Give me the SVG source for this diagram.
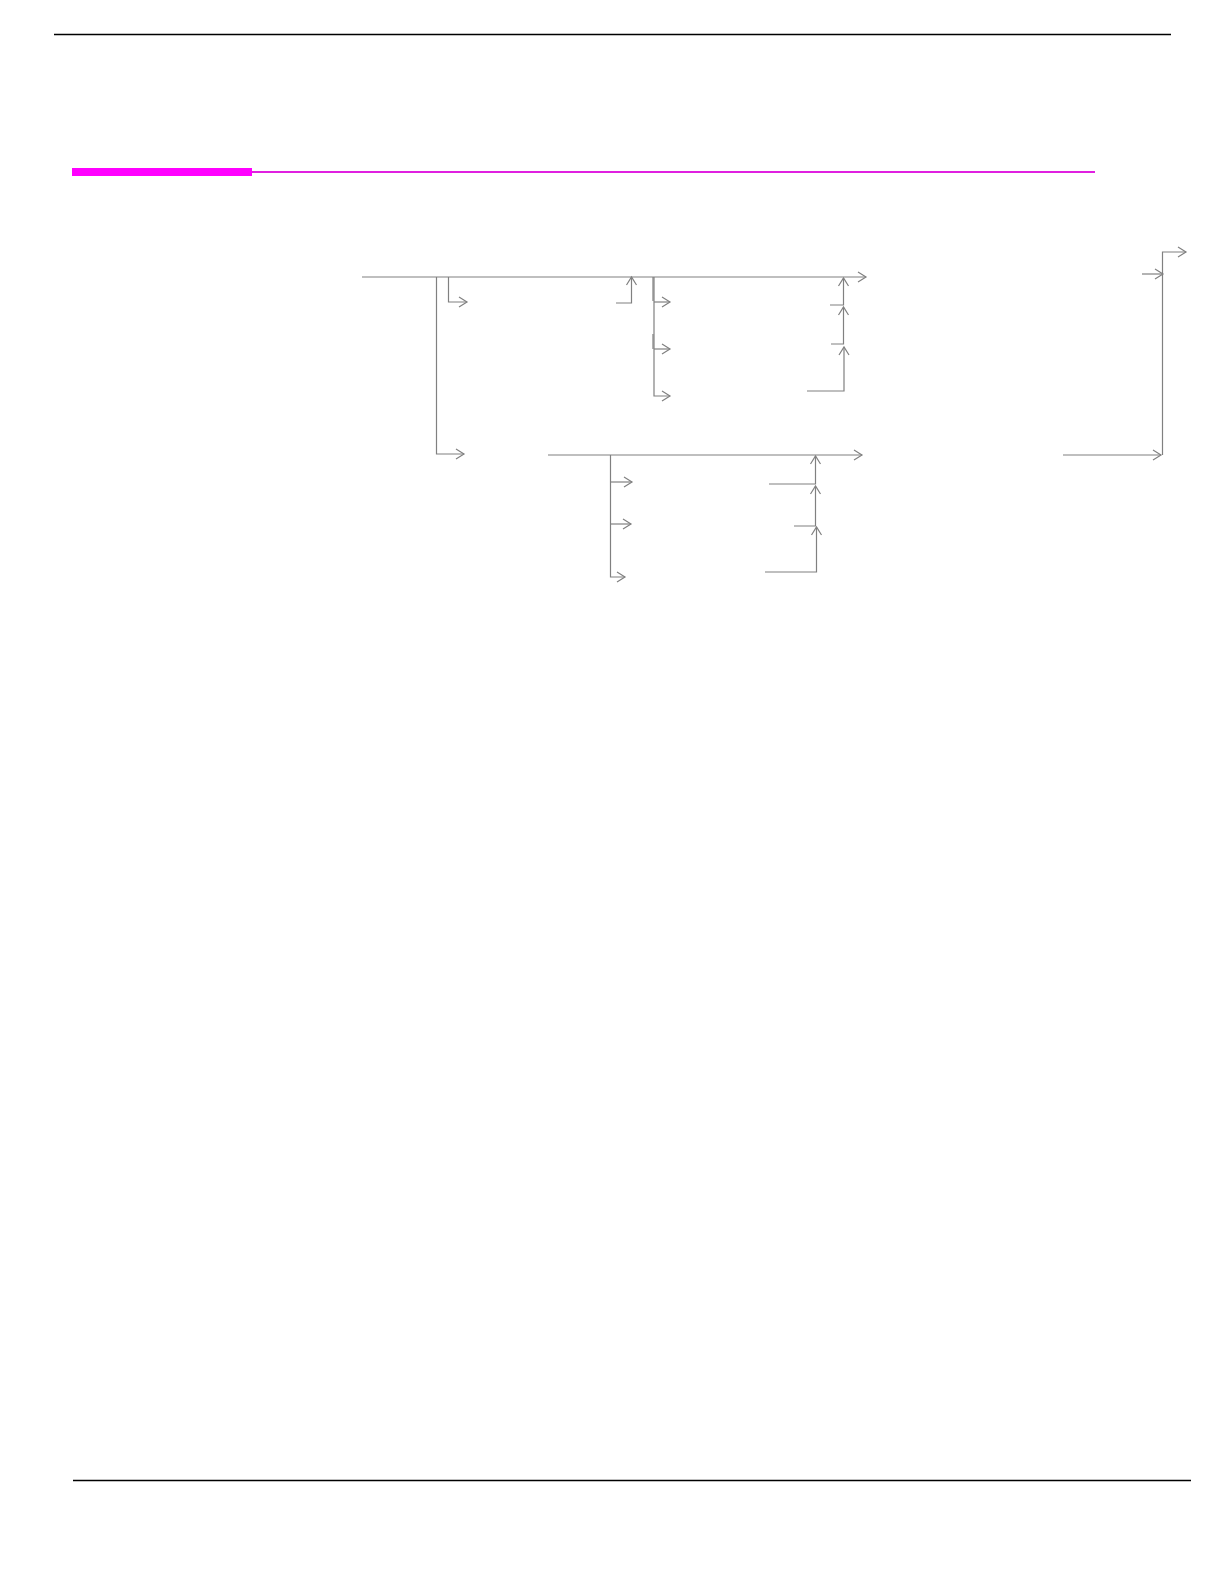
<svg xmlns="http://www.w3.org/2000/svg" width="1224" height="1582" viewBox="0 0 1224 1582">
<defs>
<style>
.rule{stroke:#000;stroke-width:1.3;fill:none}
.c{stroke:#808080;stroke-width:1.2;fill:none}
</style>
<marker id="ah" markerUnits="userSpaceOnUse" markerWidth="14" markerHeight="14" viewBox="-10 -7 12 14" refX="0" refY="0" orient="auto">
<path d="M-8,-5 L0,0 L-8,5" fill="none" stroke="#808080" stroke-width="1.2"/>
</marker>
</defs>
<rect width="1224" height="1582" fill="#fff"/>
<g id="page-frame">
<line class="rule" x1="54" y1="34.5" x2="1171" y2="34.5"/>
<rect x="72" y="168" width="180" height="8" fill="#ff00ff"/>
<line x1="252" y1="172" x2="1095" y2="172" stroke="#e020e0" stroke-width="2.2"/>
<line class="rule" x1="73" y1="1480.5" x2="1191" y2="1480.5"/>
</g>
<g id="connectors">
<path class="c" d="M362,277 H866" marker-end="url(#ah)"/>
<path class="c" d="M436.5,277 V454 H464" marker-end="url(#ah)"/>
<path class="c" d="M448.5,277 V302 H467" marker-end="url(#ah)"/>
<path class="c" d="M616,303 H631.5 V277" marker-end="url(#ah)"/>
<path class="c" d="M654,277 V396 H670" marker-end="url(#ah)"/>
<path class="c" d="M654,302 H670" marker-end="url(#ah)"/>
<path class="c" d="M654,349 H670" marker-end="url(#ah)"/>
<path class="c" d="M653,277 V301 M653,334 V349"/>
<path class="c" d="M830,305 H843.5 V278" marker-end="url(#ah)"/>
<path class="c" d="M831,344 H843.5 V307" marker-end="url(#ah)"/>
<path class="c" d="M807,391 H844 V347" marker-end="url(#ah)"/>
<path class="c" d="M548,455 H862" marker-end="url(#ah)"/>
<path class="c" d="M610.5,455 V577 H625" marker-end="url(#ah)"/>
<path class="c" d="M610.5,482 H632" marker-end="url(#ah)"/>
<path class="c" d="M610.5,524 H631" marker-end="url(#ah)"/>
<path class="c" d="M769,484 H815.5 V456" marker-end="url(#ah)"/>
<path class="c" d="M794,526 H815.5 V486" marker-end="url(#ah)"/>
<path class="c" d="M765,572 H816.5 V527" marker-end="url(#ah)"/>
<path class="c" d="M1063,455 H1161" marker-end="url(#ah)"/>
<path class="c" d="M1162.5,455 V252 H1186" marker-end="url(#ah)"/>
<path class="c" d="M1142,274 H1163" marker-end="url(#ah)"/>
</g>
</svg>
